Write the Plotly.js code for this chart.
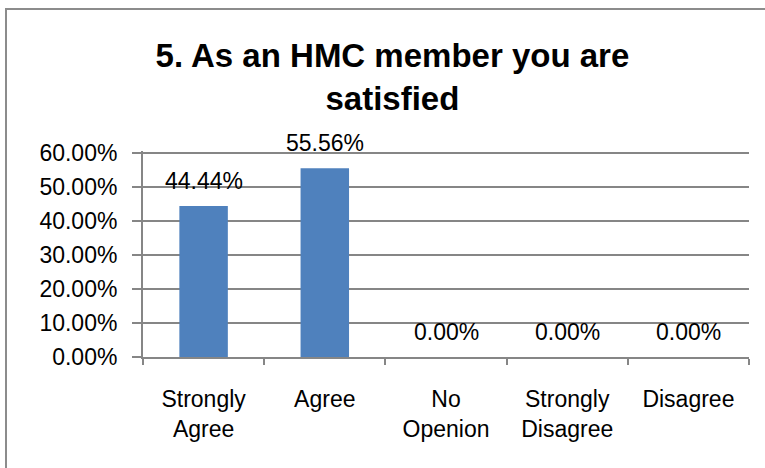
<!DOCTYPE html>
<html>
<head>
<meta charset="utf-8">
<script src="https://cdn.plot.ly/plotly-3.0.1.min.js"></script>
<style>
html,body{margin:0;padding:0;background:#fff;}
#frame{position:absolute;left:5px;top:8px;width:800px;height:500px;border:2px solid #8c8c8c;box-sizing:border-box;}
#chart{position:absolute;left:0;top:0;width:765px;height:468px;}
</style>
</head>
<body>
<div id="frame"></div>
<div id="chart"></div>
<script>
const categories = ["Strongly Agree", "Agree", "No Openion", "Strongly Disagree", "Disagree"];
const tickLabels = ["Strongly<br>Agree", "Agree", "No<br>Openion", "Strongly<br>Disagree", "Disagree"];
const values = [0.4444, 0.5556, 0.0, 0.0, 0.0];
const valueLabels = ["44.44%", "55.56%", "0.00%", "0.00%", "0.00%"];
const yTicks = [0, 0.1, 0.2, 0.3, 0.4, 0.5, 0.6];

const FONT = "Liberation Sans, Arial, sans-serif";

const trace = {
  type: "bar",
  x: categories,
  y: values,
  marker: {color: "#4F81BD"},
  width: 0.4,
  hoverinfo: "skip"
};

const annotations = categories.map((c, i) => ({
  x: c, y: values[i], xref: "x", yref: "y",
  text: valueLabels[i], showarrow: false,
  yanchor: "middle", yshift: 25,
  font: {family: FONT, size: 23, color: "#000"}
}));

const layout = {
  width: 765, height: 468,
  margin: {l: 143, r: 16, t: 151, b: 111},
  paper_bgcolor: "rgba(0,0,0,0)",
  plot_bgcolor: "rgba(0,0,0,0)",
  showlegend: false,
  title: {
    text: "<b>5. As an HMC member you are<br>satisfied</b>",
    x: 0.513, xanchor: "center",
    y: 1 - 67/468, yanchor: "top",
    font: {family: FONT, size: 33, color: "#000"}
  },
  xaxis: {
    type: "category",
    tickvals: categories,
    ticktext: tickLabels,
    tickson: "boundaries",
    ticks: "outside", ticklen: 6, tickcolor: "#868686", tickwidth: 2,
    showline: true, linecolor: "#868686", linewidth: 2,
    showgrid: false, zeroline: false,
    ticklabelstandoff: 20,
    tickfont: {family: FONT, size: 23, color: "#000"}
  },
  yaxis: {
    range: [0, 0.606],
    tickvals: yTicks,
    tickformat: ".2%",
    ticks: "outside", ticklen: 9, tickcolor: "#868686", tickwidth: 2,
    showline: true, linecolor: "#868686", linewidth: 2,
    showgrid: true, gridcolor: "#868686", gridwidth: 2,
    zeroline: false,
    ticklabelstandoff: 10,
    tickfont: {family: FONT, size: 23, color: "#000"}
  },
  annotations: annotations
};

Plotly.newPlot("chart", [trace], layout, {displayModeBar: false, staticPlot: true});
</script>
</body>
</html>
